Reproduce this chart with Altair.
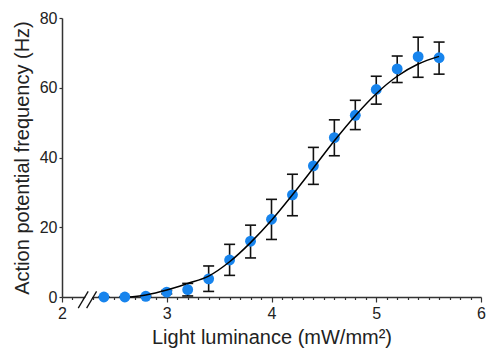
import altair as alt
import pandas as pd

# ---- data ----
lum = [2.4, 2.6, 2.8, 3.0, 3.2, 3.4, 3.6, 3.8, 4.0, 4.2, 4.4, 4.6, 4.8, 5.0, 5.2, 5.4, 5.6]
freq = [0.0, 0.0, 0.2, 1.4, 2.1, 5.2, 10.6, 16.0, 22.3, 29.3, 37.6, 45.7, 52.1, 59.5, 65.4, 68.9, 68.6]
err_low = [0.0, 0.0, 0.0, 0.9, 0.3, 1.6, 6.2, 11.2, 16.5, 23.3, 32.3, 40.5, 48.0, 55.3, 61.5, 63.0, 63.9]
err_high = [0.0, 0.0, 0.4, 1.9, 3.9, 8.9, 15.1, 20.6, 28.0, 35.2, 42.9, 50.8, 56.4, 63.3, 69.1, 74.5, 73.1]

fit_x = [2.65, 2.8, 3.0, 3.2, 3.4, 3.6, 3.8, 4.0, 4.2, 4.4, 4.6, 4.8, 5.0, 5.2, 5.4, 5.6]
fit_y = [0.0, 0.6, 2.0, 3.9, 6.0, 10.1, 15.6, 22.0, 29.3, 37.0, 44.8, 52.0, 58.3, 63.3, 66.8, 69.0]

x_ticks = [round(2 + 0.1 * i, 1) for i in range(41)]
y_ticks = [0, 20, 40, 60, 80]

# axis break (two slashes near x = 2.2)
brk_x = [2.155, 2.235]
brk_x2 = [2.25, 2.33]
brk_y = [-3.2, 1.6]

FONT = "Liberation Sans"
BLUE = "#1784ED"
INK = "#111111"

pts = pd.DataFrame({"x": lum, "y": freq, "lo": err_low, "hi": err_high})
fit = pd.DataFrame({"x": fit_x, "y": fit_y})
brk = pd.DataFrame({"x": brk_x, "x2": brk_x2, "y": [brk_y[0]] * 2, "y2": [brk_y[1]] * 2})
gap = pd.DataFrame({"x": [(brk_x[0] + brk_x[1]) / 2], "x2": [(brk_x2[0] + brk_x2[1]) / 2],
                    "y": [brk_y[0]], "y2": [brk_y[1]]})

xscale = alt.Scale(domain=[2, 6], nice=False, zero=False)
yscale = alt.Scale(domain=[0, 80], nice=False, zero=False)

is_int = "abs(datum.value - round(datum.value)) < 0.001"

xaxis = alt.Axis(
    values=x_ticks,
    title="Light luminance (mW/mm²)",
    labelExpr=f"{is_int} ? format(datum.value, 'd') : ''",
    tickSize={"condition": {"test": is_int, "value": 5}, "value": 2.5},
    labelOverlap=False, labelFlush=False, labelBound=False,
    grid=False,
)
yaxis = alt.Axis(values=y_ticks, title="Action potential frequency (Hz)", tickSize=3,
                 labelOverlap=False, labelFlush=False, grid=False)


def X(f):
    return alt.X(f"{f}:Q", scale=xscale, axis=xaxis)


def Y(f):
    return alt.Y(f"{f}:Q", scale=yscale, axis=yaxis)


bars = alt.Chart(pts).mark_rule(color=INK, strokeWidth=1.6).encode(
    x=X("x"), y=Y("lo"), y2="hi:Q")
cap_lo = alt.Chart(pts).mark_tick(orient="horizontal", size=11, thickness=1.6, color=INK, opacity=1).encode(
    x=X("x"), y=Y("lo"))
cap_hi = alt.Chart(pts).mark_tick(orient="horizontal", size=11, thickness=1.6, color=INK, opacity=1).encode(
    x=X("x"), y=Y("hi"))

dots = alt.Chart(pts).mark_circle(size=118, color=BLUE, opacity=1).encode(x=X("x"), y=Y("y"))

curve = alt.Chart(fit).mark_line(color="black", strokeWidth=1.5, interpolate="monotone").encode(
    x=X("x"), y=Y("y"))

gap_mark = alt.Chart(gap).mark_rule(color="white", strokeWidth=6).encode(
    x=X("x"), x2="x2:Q", y=Y("y"), y2="y2:Q")
slashes = alt.Chart(brk).mark_rule(color=INK, strokeWidth=1.3).encode(
    x=X("x"), x2="x2:Q", y=Y("y"), y2="y2:Q")

chart = alt.layer(bars, cap_lo, cap_hi, dots, curve, gap_mark, slashes).properties(
    width=419, height=279,
    autosize=alt.AutoSizeParams(type="none"),
    padding={"left": 62, "top": 18, "right": 7, "bottom": 56},
).configure_view(stroke=None).configure_axis(
    labelFont=FONT, titleFont=FONT, labelFontSize=16, titleFontSize=20,
    labelColor="#222", titleColor="#222", titleFontWeight="normal",
    domainColor="#333", domainWidth=1.5, tickColor="#333", tickWidth=1.2,
    labelPadding=3, labelOverlap=False,
).configure_axisX(titlePadding=6, labelOverlap=False).configure_axisY(titlePadding=7, labelPadding=2)

chart.save("out.html", embed_options={"renderer": "svg", "actions": False})
